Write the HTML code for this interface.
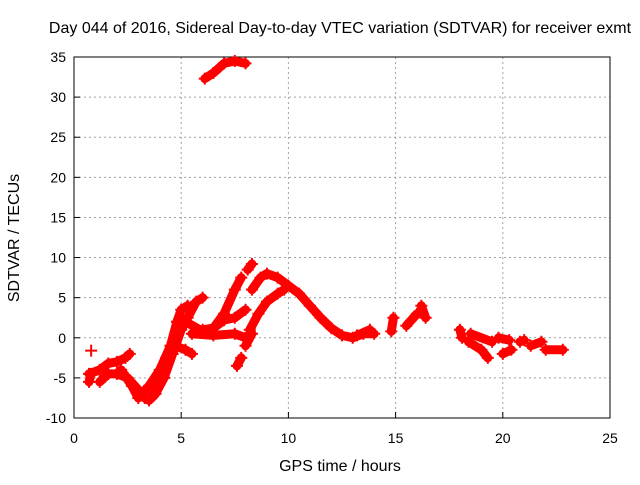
<!DOCTYPE html>
<html><head><meta charset="utf-8"><style>
body{margin:0;background:#fff}
svg text{font-family:"Liberation Sans",sans-serif;font-size:14px;fill:#000}
svg text.big{font-size:16px}
</style></head><body>
<svg id="chart" width="640" height="480" xmlns="http://www.w3.org/2000/svg">
<rect width="640" height="480" fill="#fff"/>
<g id="grid"></g>
<g id="axes"></g>
<g id="series"></g>
<text class="big" x="340" y="33" text-anchor="middle">Day 044 of 2016, Sidereal Day-to-day VTEC variation (SDTVAR) for receiver exmt</text>
<text class="big" x="340" y="471" text-anchor="middle">GPS time / hours</text>
<text class="big" x="19" y="238" text-anchor="middle" transform="rotate(-90 19 238)">SDTVAR / TECUs</text>
</svg>
<script>
const xTicks=[0,5,10,15,20,25];
const yTicks=[-10,-5,0,5,10,15,20,25,30,35];
const tracks=[
[[6.1,32.3],[6.5,33],[7,34.2],[7.5,34.5],[8,34.2]],
[[0.7,-4.5],[1.2,-4],[1.6,-3.2],[2.0,-3],[2.4,-2.5],[2.6,-2]],
[[1.2,-5.5],[1.6,-4.5],[2,-4.5],[2.5,-5],[3,-6.5],[3.3,-7.5],[3.5,-7.8],[3.8,-7],[4.2,-5],[4.6,-2],[5,1],[5.3,2.5],[5.7,4.5],[6,5]],
[[2.2,-4],[2.7,-6],[3,-7.5],[3.5,-6],[4,-4],[4.5,-1],[4.8,2],[5,3.5],[5.3,4]],
[[3.6,-7.5],[4,-5],[4.3,-2.5],[4.7,-1],[5.2,-1.5],[5.5,-2]],
[[5.2,2],[6,0.8],[6.5,1.2],[7,3],[7.5,6],[7.8,7.5]],
[[8.1,8.5],[8.3,9.2]],
[[5.5,0.5],[6.5,0.3],[7.5,0.5],[8,0]],
[[6,1],[6.5,1.2],[7,2.2],[7.5,2.5],[8,3.5]],
[[8.3,6],[8.7,7.5],[9,8],[9.5,7.5],[10,6.5],[10.5,5.5],[11,4],[11.5,2.5],[12,1.2],[12.5,0.3],[13,0],[13.5,0.5],[14,0.5]],
[[8.2,1],[8.6,3],[9,4.5],[9.5,5.5],[9.8,6]],
[[7.6,-3.5],[7.8,-2.5]],
[[8,-1],[8.3,0.5]],
[[0.7,-5.5],[0.8,-4.5]],
[[0.8,-1.6]],
[[13.2,0.3],[13.8,1]],
[[14.8,0.8],[14.9,2.5]],
[[15.5,1.5],[16,3]],
[[16.2,4],[16.4,2.5]],
[[18,1],[18.1,0]],
[[18.4,-0.5],[19,-1.5],[19.3,-2.5]],
[[18.5,0.5],[19.5,-0.5]],
[[19.8,0],[20.3,-0.3]],
[[20,-2],[20.4,-1.5]],
[[20.8,-0.5],[21,-0.3]],
[[21.3,-1],[21.8,-0.5]],
[[22,-1.5],[22.8,-1.5]]
];
const X0=74,X1=610,Y0=418,Y1=57;
const sx=v=>X0+(v-0)/(25-0)*(X1-X0);
const sy=v=>Y0-(v+10)/45*(Y0-Y1);
const NS="http://www.w3.org/2000/svg";
function mk(t,a,p){const e=document.createElementNS(NS,t);for(const k in a)e.setAttribute(k,a[k]);p.appendChild(e);return e;}
const grid=document.getElementById('grid'),axes=document.getElementById('axes'),ser=document.getElementById('series');
xTicks.forEach(t=>{const x=sx(t);
 if(t>0&&t<25){const l=mk('line',{x1:x,y1:Y1,x2:x,y2:Y0,stroke:'#a0a0a0','stroke-dasharray':'2,3'},grid);}
 mk('line',{x1:x,y1:Y0,x2:x,y2:Y0-6,stroke:'#000'},axes);
 const tx=mk('text',{x:x,y:Y0+25,'text-anchor':'middle'},axes);tx.textContent=t;
 });
yTicks.forEach(t=>{const y=sy(t);
 if(t>-10&&t<35){const l=mk('line',{x1:X0,y1:y,x2:X1,y2:y,stroke:'#a0a0a0','stroke-dasharray':'2,3'},grid);}
 mk('line',{x1:X0,y1:y,x2:X0+6,y2:y,stroke:'#000'},axes);
 const tx=mk('text',{x:X0-8,y:y+5,'text-anchor':'end'},axes);tx.textContent=t;
 });
const fr=mk('rect',{x:X0,y:Y1,width:X1-X0,height:Y0-Y1,fill:'none',stroke:'#000'},axes);

tracks.forEach(tr=>{
 const pts=tr.map(p=>sx(p[0])+','+sy(p[1])).join(' ');
 if(tr.length>1){const pl=mk('polyline',{points:pts,fill:'none',stroke:'#ff0000','stroke-width':9,'stroke-linejoin':'round','stroke-linecap':'round'},ser);
 }
 tr.forEach(p=>{const x=sx(p[0]),y=sy(p[1]);
  const m=mk('path',{d:`M${x-6},${y}H${x+6}M${x},${y-6}V${y+6}`,stroke:'#ff0000','stroke-width':2},ser);
  });
});
</script>
</body></html>
